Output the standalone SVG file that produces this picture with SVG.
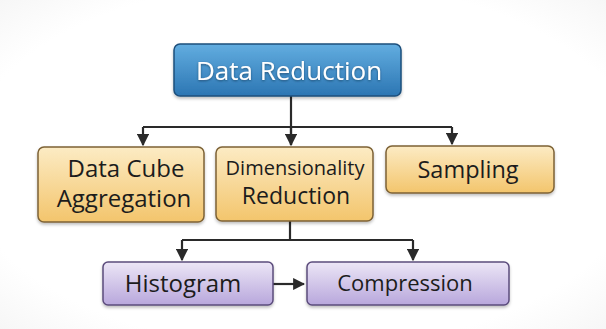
<svg xmlns="http://www.w3.org/2000/svg" width="606" height="329" viewBox="0 0 606 329">
  <style>
    .lbl { font-family: "Open Sans", "Noto Sans", "DejaVu Sans", sans-serif; text-anchor: middle; font-weight: 500; }
    .dark { fill: #1c1c1c; }
    .wire { fill: none; stroke: #2a2a2a; stroke-width: 2.2; }
  </style>
  <defs>
    <linearGradient id="gBlue" x1="0" y1="0" x2="0" y2="1">
      <stop offset="0" stop-color="#62ade0"/>
      <stop offset="1" stop-color="#2c76b3"/>
    </linearGradient>
    <linearGradient id="gYellow" x1="0" y1="0" x2="0" y2="1">
      <stop offset="0" stop-color="#fcebc4"/>
      <stop offset="1" stop-color="#f3c56c"/>
    </linearGradient>
    <linearGradient id="gPurple" x1="0" y1="0" x2="0" y2="1">
      <stop offset="0" stop-color="#ece6f6"/>
      <stop offset="1" stop-color="#b8a7dc"/>
    </linearGradient>
    <radialGradient id="gBg" cx="0.5" cy="0.5" r="0.8">
      <stop offset="0.7" stop-color="#ffffff"/>
      <stop offset="1" stop-color="#f1f1f1"/>
    </radialGradient>
    <filter id="shadow" x="-10%" y="-10%" width="120%" height="140%">
      <feDropShadow dx="0" dy="2" stdDeviation="1.5" flood-color="#000" flood-opacity="0.25"/>
    </filter>
    <filter id="tshadow" x="-5%" y="-20%" width="110%" height="150%">
      <feDropShadow dx="0" dy="1" stdDeviation="0.8" flood-color="#0b2a45" flood-opacity="0.6"/>
    </filter>
    <marker id="arrow" viewBox="0 0 10 10" refX="9" refY="5" markerWidth="5.5" markerHeight="5.5" orient="auto-start-reverse" markerUnits="strokeWidth">
      <path d="M0,0 L10,5 L0,10 z" fill="#2a2a2a"/>
    </marker>
  </defs>

  <rect width="606" height="329" fill="url(#gBg)"/>

  <!-- connectors -->
  <g id="connectors">
    <path class="wire" d="M291,96 V145"/>
    <path class="wire" d="M143,127 H452"/>
    <path class="wire" d="M143,127 V145" marker-end="url(#arrow)"/>
    <path class="wire" d="M291,127 V145" marker-end="url(#arrow)"/>
    <path class="wire" d="M452,127 V144" marker-end="url(#arrow)"/>
    <path class="wire" d="M290,221 V240"/>
    <path class="wire" d="M182,240 H413"/>
    <path class="wire" d="M182,240 V260" marker-end="url(#arrow)"/>
    <path class="wire" d="M413,240 V260" marker-end="url(#arrow)"/>
    <path class="wire" d="M273,284 H304" marker-end="url(#arrow)"/>
  </g>

  <!-- root -->
  <g id="data-reduction">
    <rect x="174" y="44" width="227" height="52" rx="6" fill="url(#gBlue)" stroke="#1d4f7c" stroke-width="1.5" filter="url(#shadow)"/>
    <text class="lbl" x="289" y="80" font-size="26" fill="#ffffff" filter="url(#tshadow)">Data Reduction</text>
  </g>

  <g id="data-cube-aggregation">
    <rect x="38" y="147" width="166" height="75" rx="6" fill="url(#gYellow)" stroke="#7d6234" stroke-width="1.5" filter="url(#shadow)"/>
    <text class="lbl dark" x="126" y="177" font-size="24">Data Cube</text>
    <text class="lbl dark" x="124" y="207" font-size="24">Aggregation</text>
  </g>

  <g id="dimensionality-reduction">
    <rect x="216" y="147" width="157" height="74" rx="6" fill="url(#gYellow)" stroke="#7d6234" stroke-width="1.5" filter="url(#shadow)"/>
    <text class="lbl dark" x="295" y="175" font-size="20">Dimensionality</text>
    <text class="lbl dark" x="296" y="204" font-size="23">Reduction</text>
  </g>

  <g id="sampling">
    <rect x="386" y="146" width="168" height="47" rx="6" fill="url(#gYellow)" stroke="#7d6234" stroke-width="1.5" filter="url(#shadow)"/>
    <text class="lbl dark" x="468" y="178" font-size="23.5">Sampling</text>
  </g>

  <g id="histogram">
    <rect x="103" y="262" width="170" height="43" rx="5" fill="url(#gPurple)" stroke="#5b4c7c" stroke-width="1.5" filter="url(#shadow)"/>
    <text class="lbl dark" x="183" y="292" font-size="24">Histogram</text>
  </g>

  <g id="compression">
    <rect x="307" y="262" width="202" height="43" rx="5" fill="url(#gPurple)" stroke="#5b4c7c" stroke-width="1.5" filter="url(#shadow)"/>
    <text class="lbl dark" x="405" y="291" font-size="22">Compression</text>
  </g>
</svg>
